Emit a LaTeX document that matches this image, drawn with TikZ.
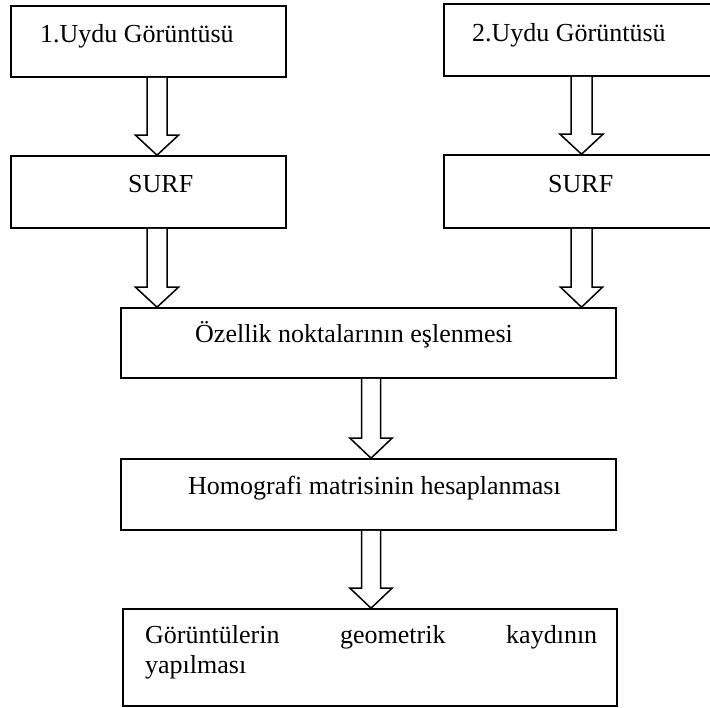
\documentclass[tikz,border=0pt]{standalone}
\usepackage{fontspec}
\setmainfont{Liberation Serif}
\usetikzlibrary{calc}
\tikzset{
  boxnode/.style={draw=black, line width=1.6pt, rectangle, inner sep=0pt},
  lbl/.style={inner sep=0pt, anchor=base west, font=\fontsize{26}{30}\selectfont},
  blk/.style={draw=black, fill=white, line width=1.5pt, line join=miter}
}
% #1 = x of arrow axis (pt), #2 = source node, #3 = target node, #4 = half shaft, #5 = half head
\newcommand{\blockarrow}[5]{%
  \draw[blk] let \p1=(#2.south), \p2=(#3.north) in
    (#1pt-#4pt,\y1) -- (#1pt-#4pt,\y2+20pt) -- (#1pt-#5pt,\y2+20pt) -- (#1pt,\y2)
    -- (#1pt+#5pt,\y2+20pt) -- (#1pt+#4pt,\y2+20pt) -- (#1pt+#4pt,\y1);}
\newcommand{\boxat}[5]{% name, x1, y1, x2, y2 (pixels, y down)
  \node[boxnode, minimum width=#4pt-#2pt, minimum height=#5pt-#3pt] (#1) at ({(#2+#4)/2*1pt},{-(#3+#5)/2*1pt}) {};}
\begin{document}
\begin{tikzpicture}[x=1pt,y=1pt]
\useasboundingbox (0,0) rectangle (710,-708);
\boxat{b1}{11}{6}{286}{77}
\boxat{b2}{444}{4}{720}{76}
\boxat{s1}{11}{156}{286}{228}
\boxat{s2}{444}{155}{720}{228}
\boxat{oz}{121}{308}{616}{378}
\boxat{ho}{121}{459}{616}{530}
\boxat{go}{123}{609}{617}{706}

\node[lbl] (t1) at (40,-43) {1.Uydu Görüntüsü};
\node[lbl] (t2) at (472,-42) {2.Uydu Görüntüsü};
\node[lbl] (t3) at (128,-193) {SURF};
\node[lbl] (t4) at (548,-193) {SURF};
\node[lbl] (t5) at (195,-343) {Özellik noktalarının eşlenmesi};
\node[lbl] (t6) at (188,-495) {Homografi matrisinin hesaplanması};
\node[lbl] (t7) at (145,-643) {\parbox[t]{452pt}{\fontsize{26}{30}\selectfont Görüntülerin\hfill geometrik\hfill kaydının\\yapılması}};

\blockarrow{157}{b1}{s1}{10}{21.5}
\blockarrow{581.5}{b2}{s2}{10.5}{21.5}
\blockarrow{157}{s1}{oz}{10}{21.5}
\blockarrow{581.5}{s2}{oz}{10.5}{21}
\blockarrow{371}{oz}{ho}{9.5}{21}
\blockarrow{371}{ho}{go}{9.5}{21}
\end{tikzpicture}
\end{document}
